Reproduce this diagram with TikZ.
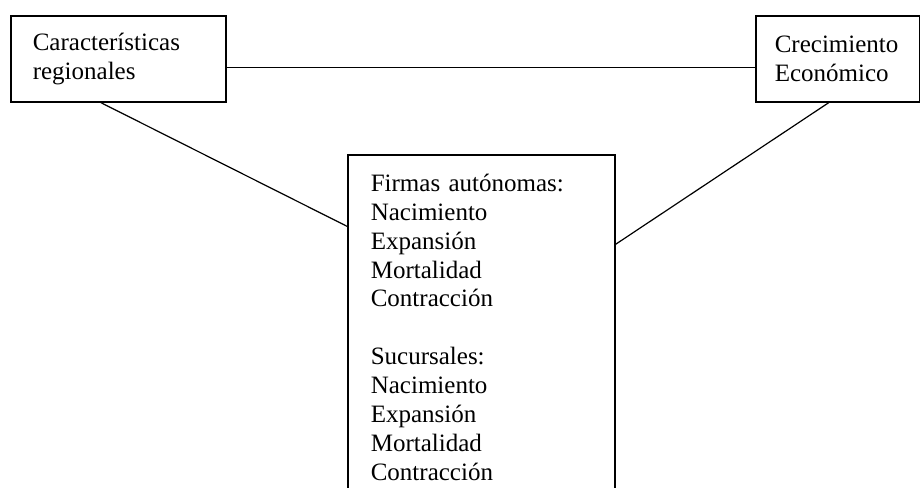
\documentclass[tikz,border=0pt]{standalone}
\usepackage{fontspec}
\setmainfont{Liberation Serif}
\tikzset{
  bx/.style={draw, line width=1.6pt, align=left, anchor=north west, inner ysep=0pt,
    font=\fontsize{25}{28.9}\selectfont},
  ln/.style={draw, line width=1.2pt},
}
\begin{document}
\begin{tikzpicture}[x=1pt, y=-1pt]
  \useasboundingbox (0,0) rectangle (920,487);
  % the three boxes
  \node[bx, text width=171pt, inner xsep=22pt, minimum height=86pt] (reg) at (10,15)
    {Características\\regionales};
  \node[bx, text width=126pt, inner xsep=19pt, minimum height=86pt] (crec) at (755,15)
    {Crecimiento\\Económico};
  \node[bx, text width=221pt, inner xsep=23pt, minimum height=345pt] (firm) at (347,154)
    {Firmas autónomas:\\Nacimiento\\Expansión\\Mortalidad\\Contracción\\[28.9pt]%
     Sucursales:\\Nacimiento\\Expansión\\Mortalidad\\Contracción};
  % links
  \draw[ln] ([yshift=-9pt]reg.east) -- ([yshift=-9pt]crec.west);
  \draw[ln] ([xshift=-17.5pt]reg.south) -- ([yshift=101pt]firm.west);
  \draw[ln] ([xshift=-9pt]crec.south) -- ([yshift=83pt]firm.east);
\end{tikzpicture}
\end{document}
